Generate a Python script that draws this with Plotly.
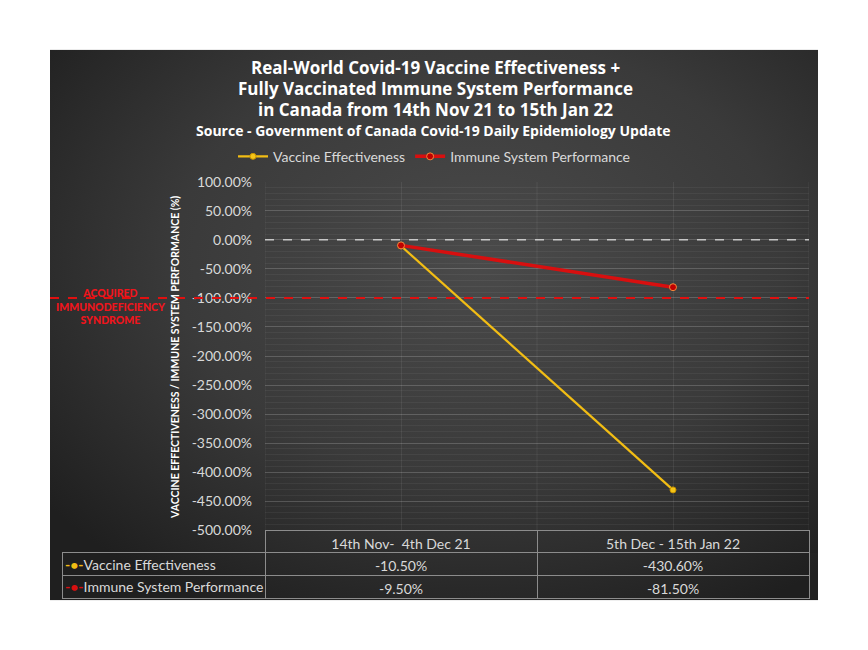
import base64
import plotly.graph_objects as go

# -----------------------------
# Data
# -----------------------------
periods = ["14th Nov-  4th Dec 21", "5th Dec - 15th Jan 22"]
series_names = ["Vaccine Effectiveness", "Immune System Performance"]
vaccine_effectiveness = [-10.5, -430.6]
immune_performance = [-9.5, -81.5]
y_ticks = [100, 50, 0, -50, -100, -150, -200, -250, -300, -350, -400, -450, -500]
aids_level = -100

W, H = 868, 650
# the photographed page comes out slightly squeezed vertically, so
# target pixel rows are mapped back to page rows here
SQ, OFF = 0.9727, 9.4


def px_x(p):
    return p / W


def px_y(p):
    return 1 - ((p - OFF) / SQ) / H


FONT = "Lato"
TITLE_FONT = "Open Sans"
LIGHT = "#d9d9d9"
YELLOW = "#f2bd14"
RED = "#d80f0f"

# -----------------------------
# Dark gradient panel (background image)
# -----------------------------
svg = (
    '<svg xmlns="http://www.w3.org/2000/svg" width="768" height="550" preserveAspectRatio="none">'
    '<defs><radialGradient id="g" cx="0.56" cy="0.38" r="0.72">'
    '<stop offset="0" stop-color="#4a4a4a"/>'
    '<stop offset="0.55" stop-color="#3a3a3a"/>'
    '<stop offset="1" stop-color="#1f1f1f"/>'
    '</radialGradient></defs>'
    '<rect width="768" height="550" fill="url(#g)"/></svg>'
)
panel_src = "data:image/svg+xml;base64," + base64.b64encode(svg.encode()).decode()

fig = go.Figure()

# -----------------------------
# Lines
# -----------------------------
fig.add_trace(go.Scatter(
    x=periods, y=vaccine_effectiveness, name=series_names[0],
    mode="lines+markers",
    line=dict(color=YELLOW, width=2.2),
    marker=dict(size=6, color="#f5c518", line=dict(color="#c89300", width=1)),
))
fig.add_trace(go.Scatter(
    x=periods, y=immune_performance, name=series_names[1],
    mode="lines+markers",
    line=dict(color=RED, width=3.5),
    marker=dict(size=7, color="#c00000", line=dict(color="#f08a3c", width=1)),
))

# -----------------------------
# Data table under the chart
# -----------------------------
col_values = [
    [f"{vaccine_effectiveness[i]:.2f}%", f"{immune_performance[i]:.2f}%"]
    for i in range(len(periods))
]
border = "#8c8c8c"
fig.add_trace(go.Table(
    domain=dict(x=[px_x(62), px_x(809)], y=[px_y(599), px_y(530)]),
    columnwidth=[203, 272, 272],
    header=dict(
        values=[""] + periods,
        height=22.6,
        align="center",
        fill=dict(color="rgba(0,0,0,0)"),
        line=dict(color=["rgba(0,0,0,0)", border, border], width=1),
        font=dict(family=FONT, size=14, color=LIGHT),
    ),
    cells=dict(
        values=[["", ""]] + col_values,
        height=22.6,
        align=["left", "center", "center"],
        fill=dict(color="rgba(0,0,0,0)"),
        line=dict(color=border, width=1),
        font=dict(family=FONT, size=14, color=LIGHT),
    ),
))

# -----------------------------
# Layout
# -----------------------------
grid = "rgba(255,255,255,0.14)"
fig.update_layout(
    width=W, height=H,
    margin=dict(l=0, r=0, t=0, b=0),
    paper_bgcolor="white",
    plot_bgcolor="rgba(0,0,0,0)",
    font=dict(family=FONT, color=LIGHT),
    showlegend=True,
    legend=dict(
        orientation="h", x=0.5, xanchor="center",
        y=px_y(157), yanchor="middle",
        bgcolor="rgba(0,0,0,0)",
        font=dict(family=FONT, size=14, color=LIGHT),
    ),
    xaxis=dict(
        domain=[px_x(265), px_x(809)],
        range=[-0.5, 1.5],
        showgrid=True, gridcolor="rgba(255,255,255,0.07)",
        showticklabels=False, zeroline=False, showline=False,
        fixedrange=True,
    ),
    yaxis=dict(
        domain=[px_y(530), px_y(182)],
        range=[-500, 100],
        tickvals=y_ticks,
        ticktext=[f"{v:.2f}%" for v in y_ticks],
        tickfont=dict(family=FONT, size=14, color=LIGHT),
        ticklabelstandoff=12,
        showgrid=True, gridcolor=grid, gridwidth=1,
        minor=dict(dtick=10, showgrid=True, gridcolor="rgba(255,255,255,0.05)"),
        zeroline=False, showline=False,
        fixedrange=True,
    ),
    images=[dict(
        source=panel_src, xref="paper", yref="paper",
        x=px_x(50), y=px_y(50), sizex=px_x(818) - px_x(50),
        sizey=px_y(50) - px_y(600),
        xanchor="left", yanchor="top", sizing="stretch", layer="below",
    )],
)

# category boundary gridlines
for b in [-0.5, 0.5, 1.5]:
    fig.add_shape(type="line", xref="x", yref="paper", x0=b, x1=b,
                  y0=px_y(530), y1=px_y(182),
                  line=dict(color="rgba(255,255,255,0.07)", width=1), layer="below")

# 0% white dashed line
fig.add_shape(type="line", xref="x", yref="y", x0=-0.5, x1=1.5, y0=0, y1=0,
              line=dict(color="white", width=1, dash="dash"))

# AIDS threshold line (runs across the whole panel)
fig.add_shape(type="line", xref="paper", yref="y", x0=px_x(50), x1=px_x(809),
              y0=aids_level, y1=aids_level,
              line=dict(color="#e01010", width=2, dash="dash"))

# -----------------------------
# Titles and notes
# -----------------------------
title_lines = [
    "Real-World Covid-19 Vaccine Effectiveness +",
    "Fully Vaccinated Immune System Performance",
    "in Canada from 14th Nov 21 to 15th Jan 22",
]
for i, line in enumerate(title_lines):
    fig.add_annotation(
        text=f"<b>{line}</b>",
        xref="paper", yref="paper", x=px_x(435), y=px_y(68 + 21 * i),
        xanchor="center", yanchor="middle", showarrow=False,
        font=dict(family=TITLE_FONT, size=17, color="white"),
    )
fig.add_annotation(
    text="<b>Source - Government of Canada Covid-19 Daily Epidemiology Update</b>",
    xref="paper", yref="paper", x=px_x(433), y=px_y(131),
    xanchor="center", yanchor="middle", showarrow=False,
    font=dict(family=TITLE_FONT, size=14, color="white"),
)
fig.add_annotation(
    text="<b>VACCINE EFFECTIVENESS / IMMUNE SYSTEM PERFORMANCE (%)</b>",
    xref="paper", yref="paper", x=px_x(175), y=px_y(358),
    xanchor="center", yanchor="middle", showarrow=False, textangle=-90,
    font=dict(family=FONT, size=10.5, color="white"),
)
fig.add_annotation(
    text="ACQUIRED<br>IMMUNODEFICIENCY<br>SYNDROME",
    xref="paper", yref="paper", x=px_x(111), y=px_y(307),
    xanchor="center", yanchor="middle", showarrow=False,
    font=dict(family=FONT, size=10.5, weight=900, color="#f0141c"),
)

# table row labels with their legend glyphs
for i, (name, colr) in enumerate(zip(series_names, [YELLOW, RED])):
    fig.add_annotation(
        text=f"<span style='color:{colr}'><b>-•-</b></span>{name}",
        xref="paper", yref="paper", x=px_x(63), y=px_y(564 + 22 * i),
        xanchor="left", yanchor="middle", showarrow=False,
        font=dict(family=FONT, size=14, color=LIGHT),
    )

fig.write_html(
    "out.html",
    config={"displayModeBar": False},
    post_script=(
        "document.body.style.margin='0';"
        "document.body.style.overflow='hidden';"
        "var d=document.getElementById('{plot_id}');"
        "d.style.position='fixed';d.style.left='0';d.style.top='0';"
    ),
)
